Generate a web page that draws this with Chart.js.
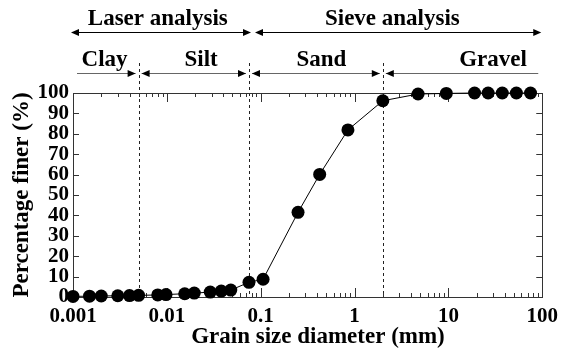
<!DOCTYPE html>
<html><head><meta charset="utf-8">
<script src="https://cdn.jsdelivr.net/npm/chart.js@4/dist/chart.umd.min.js"></script>
<style>html,body{margin:0;padding:0;background:#fff}#wrap{width:565px;height:360px}</style>
</head><body><div id="wrap"><canvas id="c" width="565" height="360"></canvas></div>
<script>
// Grain sizes (mm) and percentage finer (%)
const laserSizes = [0.001, 0.0015, 0.002, 0.003, 0.004, 0.005, 0.008, 0.0098, 0.0155, 0.0196, 0.029, 0.038, 0.048];
const laserFiner = [0.3, 0.4, 0.5, 0.6, 0.7, 0.8, 1.0, 1.2, 1.6, 1.9, 2.4, 2.9, 3.4];
const sieveSizes = [0.075, 0.106, 0.25, 0.425, 0.85, 2, 4.75, 9.5, 19, 26.5, 37.5, 53, 75];
const sieveFiner = [7.2, 8.7, 41.5, 60.1, 81.9, 96.2, 99.5, 99.8, 100, 100, 100, 100, 100];
const xTickValues = [0.001, 0.01, 0.1, 1, 10, 100];
const xTickLabels = ['0.001', '0.01', '0.1', '1', '10', '100'];
const yTickValues = [0, 10, 20, 30, 40, 50, 60, 70, 80, 90, 100];
const analysisLabels = ['Laser analysis', 'Sieve analysis'];
const analysisBounds = [0.001, 0.075, 100];
const fractionLabels = ['Clay', 'Silt', 'Sand', 'Gravel'];
const fractionBounds = [0.001, 0.005, 0.075, 2, 100];
const xTitle = 'Grain size diameter (mm)';
const yTitle = 'Percentage finer (%)';

const FONT = "'Liberation Serif', 'Times New Roman', serif";
const points = laserSizes.map((s, i) => ({x: s, y: laserFiner[i]}))
  .concat(sieveSizes.map((s, i) => ({x: s, y: sieveFiner[i]})));

// label anchor positions (mm) for the annotation texts
const analysisLabelAt = [0.0080, 2.53];
const fractionLabelAt = [0.00217, 0.0232, 0.444, 29.9];

function arrowHead(ctx, x, y, dir) {
  ctx.beginPath();
  ctx.moveTo(x, y);
  ctx.lineTo(x - dir * 8, y - 3.5);
  ctx.lineTo(x - dir * 8, y + 3.5);
  ctx.closePath();
  ctx.fill();
}

const framePlugin = {
  id: 'frame',
  beforeDatasetsDraw(chart) {
    const ctx = chart.ctx, xs = chart.scales.x, ys = chart.scales.y;
    const {left, right, top, bottom} = chart.chartArea;
    ctx.save();
    // dashed boundaries
    ctx.strokeStyle = '#222';
    ctx.lineWidth = 1;
    ctx.setLineDash([3, 3]);
    for (let i = 1; i < fractionBounds.length - 1; i++) {
      const px = Math.round(xs.getPixelForValue(fractionBounds[i])) + 0.5;
      ctx.beginPath(); ctx.moveTo(px, 63); ctx.lineTo(px, bottom); ctx.stroke();
    }
    ctx.setLineDash([]);
    // frame
    ctx.strokeStyle = '#333';
    ctx.strokeRect(Math.round(left) + 0.5, Math.round(top) + 0.5, Math.round(right - left), Math.round(bottom - top));
    // x ticks (inward, bottom & top)
    for (let d = -3; d <= 2; d++) {
      for (let k = 1; k <= 9; k++) {
        const v = k * Math.pow(10, d);
        if (v > 100.0001) break;
        const px = Math.round(xs.getPixelForValue(v)) + 0.5;
        const len = k === 1 ? 9 : 4;
        ctx.beginPath();
        ctx.moveTo(px, bottom); ctx.lineTo(px, bottom - len);
        ctx.moveTo(px, top); ctx.lineTo(px, top + len);
        ctx.stroke();
      }
    }
    // y ticks
    yTickValues.forEach(v => {
      const py = Math.round(ys.getPixelForValue(v)) + 0.5;
      ctx.beginPath();
      ctx.moveTo(left, py); ctx.lineTo(left + 6, py);
      ctx.moveTo(right, py); ctx.lineTo(right - 6, py);
      ctx.stroke();
    });
    ctx.restore();
  },
  afterDraw(chart) {
    const ctx = chart.ctx, xs = chart.scales.x;
    const P = v => xs.getPixelForValue(v);
    ctx.save();
    ctx.fillStyle = '#000';
    ctx.font = 'bold 23px ' + FONT;
    ctx.textAlign = 'center';
    ctx.textBaseline = 'alphabetic';
    analysisLabels.forEach((t, i) => ctx.fillText(t, P(analysisLabelAt[i]), 25));
    fractionLabels.forEach((t, i) => ctx.fillText(t, P(fractionLabelAt[i]), 65.5));
    // x axis title
    ctx.textBaseline = 'middle';
    ctx.fillText(xTitle, 318, 337);
    // analysis arrows
    ctx.strokeStyle = '#000';
    ctx.lineWidth = 1;
    const yA = 32.5;
    const segA = [[P(analysisBounds[0]) - 2, P(analysisBounds[1]) + 2], [P(analysisBounds[1]) + 6, P(analysisBounds[2]) - 1]];
    segA.forEach(([a, b]) => {
      ctx.beginPath(); ctx.moveTo(a + 4, yA); ctx.lineTo(b - 4, yA); ctx.stroke();
      arrowHead(ctx, a, yA, -1); arrowHead(ctx, b, yA, 1);
    });
    // fraction arrows
    const yF = 73.5;
    ctx.strokeStyle = '#666';
    for (let i = 0; i < fractionLabels.length; i++) {
      const first = i === 0, last = i === fractionLabels.length - 1;
      const a = P(fractionBounds[i]) + (first ? 4 : 3);
      const b = P(fractionBounds[i + 1]) - (last ? 4 : 3);
      ctx.beginPath(); ctx.moveTo(a, yF); ctx.lineTo(b, yF); ctx.stroke();
      if (!first) arrowHead(ctx, a, yF, -1);
      if (!last) arrowHead(ctx, b, yF, 1);
    }
    ctx.restore();
  }
};

new Chart(document.getElementById('c'), {
  type: 'scatter',
  data: {
    datasets: [{
      data: points,
      showLine: true,
      borderColor: '#000',
      borderWidth: 1,
      backgroundColor: '#000',
      pointBackgroundColor: '#000',
      pointBorderWidth: 0,
      pointRadius: 6.5,
      clip: false
    }]
  },
  options: {
    responsive: false,
    devicePixelRatio: 1,
    animation: false,
    events: [],
    layout: {padding: {top: 93, right: 16, left: 0, bottom: 0}},
    plugins: {legend: {display: false}, tooltip: {enabled: false}},
    scales: {
      x: {
        type: 'logarithmic',
        min: 0.001, max: 100,
        afterFit: s => { s.height = 63; },
        afterBuildTicks: s => { s.ticks = xTickValues.map(v => ({value: v})); },
        grid: {display: false, drawTicks: false},
        border: {display: false},
        ticks: {
          autoSkip: false, maxRotation: 0, padding: 7, color: '#000',
          font: {family: FONT, size: 21, weight: 'bold'},
          callback: (v) => { const i = xTickValues.findIndex(t => Math.abs(t - v) < v * 1e-6); return i >= 0 ? xTickLabels[i] : ''; }
        },
        title: {display: false}
      },
      y: {
        min: 0, max: 100,
        afterFit: s => { s.width = 73; },
        afterBuildTicks: s => { s.ticks = yTickValues.map(v => ({value: v})); },
        grid: {display: false, drawTicks: false},
        border: {display: false},
        ticks: {autoSkip: false, padding: 4, color: '#000', font: {family: FONT, size: 21, weight: 'bold'}},
        title: {display: true, text: yTitle, color: '#000',
          font: {family: FONT, size: 23, weight: 'bold'}, padding: {top: 8, bottom: 0}}
      }
    }
  },
  plugins: [framePlugin]
});
</script></body></html>
